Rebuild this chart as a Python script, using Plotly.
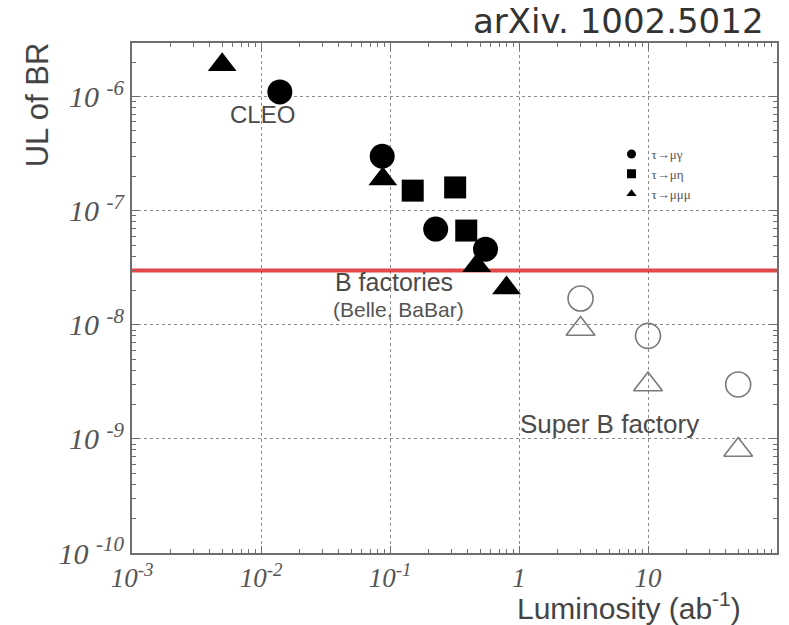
import plotly.graph_objects as go

# ---------------- data ----------------
# tau -> mu gamma (filled: measured, open: Super B projection)
mugamma_lumi = [0.014, 0.087, 0.226, 0.55]
mugamma_ul = [1.1e-6, 3.0e-7, 6.9e-8, 4.6e-8]
mugamma_future_lumi = [3, 10, 50]
mugamma_future_ul = [1.7e-8, 8e-9, 3e-9]

# tau -> mu eta
mueta_lumi = [0.15, 0.32, 0.39]
mueta_ul = [1.5e-7, 1.6e-7, 6.7e-8]

# tau -> mu mu mu
mumumu_lumi = [0.005, 0.088, 0.47, 0.8]
mumumu_ul = [1.9e-6, 1.9e-7, 3.3e-8, 2.1e-8]
mumumu_future_lumi = [3, 10, 50]
mumumu_future_ul = [9.2e-9, 3e-9, 8e-10]

b_factory_limit = 3e-8

legend_names = ["τ→μγ", "τ→μη", "τ→μμμ"]

x_tickvals = [1e-3, 1e-2, 1e-1, 1, 10, 100]
x_ticktext = ["10<sup>-3</sup>", "10<sup>-2</sup>", "10<sup>-1</sup>", "1", "10", ""]
y_tickvals = [1e-10, 1e-9, 1e-8, 1e-7, 1e-6]
y_ticktext = ["10 <sup>-10</sup>", "10 <sup>-9</sup>", "10 <sup>-8</sup>", "10 <sup>-7</sup>", "10 <sup>-6</sup>"]

x_range_log = [-3, 2]
y_range_log = [-10, -5.53]

# ---------------- layout helpers ----------------
W, H = 789, 625
L, R, T, B = 132, 10, 43, 72
PW, PH = W - L - R, H - T - B


def px(x):
    return (x - L) / PW


def py(y):
    return 1 - (y - T) / PH


fig = go.Figure()

# red B-factory line
fig.add_trace(go.Scatter(
    x=[10 ** x_range_log[0], 10 ** x_range_log[1]],
    y=[b_factory_limit, b_factory_limit],
    mode="lines", line=dict(color="rgba(220,40,40,0.85)", width=4),
    showlegend=False, hoverinfo="skip"))

black = "#000000"
grey = "#7a7a7a"

fig.add_trace(go.Scatter(x=mugamma_lumi, y=mugamma_ul, mode="markers",
                         marker=dict(symbol="circle", size=25, color=black),
                         showlegend=False))
fig.add_trace(go.Scatter(x=mueta_lumi, y=mueta_ul, mode="markers",
                         marker=dict(symbol="square", size=22, color=black),
                         showlegend=False))
fig.add_trace(go.Scatter(x=mumumu_lumi, y=mumumu_ul, mode="markers",
                         marker=dict(symbol="triangle-up", size=25, color=black),
                         showlegend=False))
fig.add_trace(go.Scatter(x=mugamma_future_lumi, y=mugamma_future_ul, mode="markers",
                         marker=dict(symbol="circle-open", size=25, color=grey,
                                     line=dict(width=1.6, color=grey)),
                         showlegend=False))
fig.add_trace(go.Scatter(x=mumumu_future_lumi, y=mumumu_future_ul, mode="markers",
                         marker=dict(symbol="triangle-up-open", size=25, color=grey,
                                     line=dict(width=1.6, color=grey)),
                         showlegend=False))

# legend-only entries (small symbols)
for name, sym in zip(legend_names, ["circle", "square", "triangle-up"]):
    fig.add_trace(go.Scatter(x=[None], y=[None], mode="markers", name=name,
                             marker=dict(symbol=sym, size=9, color=black)))

axis_common = dict(
    type="log", showline=True, linecolor="#6f6f6f", linewidth=2, mirror="ticks",
    ticks="inside", ticklen=7, tickcolor="#6f6f6f", tickwidth=1,
    showgrid=True, gridcolor="#8a8a8a", gridwidth=1, griddash="dot",
    zeroline=False,
)

minor_x = [m * 10 ** e for e in range(-3, 2) for m in range(2, 10)]
minor_y = [m * 10 ** e for e in range(-10, -5) for m in range(2, 10) if m * 10 ** e < 10 ** y_range_log[1]]

fig.update_xaxes(range=x_range_log, tickmode="array", tickvals=x_tickvals, ticktext=x_ticktext,
                 tickfont=dict(family="Liberation Serif", size=27, color="#555555", style="italic"),
                 minor=dict(tickvals=minor_x, ticks="inside", ticklen=4, tickcolor="#6f6f6f", showgrid=False),
                 **axis_common)
fig.update_yaxes(range=y_range_log, tickmode="array", tickvals=y_tickvals, ticktext=y_ticktext,
                 tickfont=dict(family="Liberation Serif", size=30, color="#555555", style="italic"),
                 minor=dict(tickvals=minor_y, ticks="inside", ticklen=4, tickcolor="#6f6f6f", showgrid=False),
                 **axis_common)

text_col = "#4a4a4a"
ann = [
    dict(text="arXiv. 1002.5012", x=px(620), y=py(21),
         font=dict(family="DejaVu Sans", size=34, color="#333333")),
    dict(text="UL of BR", x=px(37), y=py(105), textangle=-90,
         font=dict(family="Liberation Sans", size=31, color="#444444")),
    dict(text="Luminosity (ab<sup>-1</sup>)", x=px(631), y=py(606),
         font=dict(family="Liberation Sans", size=30, color="#444444")),
    dict(text="CLEO", x=px(263), y=py(115),
         font=dict(family="Liberation Sans", size=24, color=text_col)),
    dict(text="B factories", x=px(395), y=py(282),
         font=dict(family="Liberation Sans", size=25, color=text_col)),
    dict(text="(Belle, BaBar)", x=px(399), y=py(309),
         font=dict(family="Liberation Sans", size=21, color="#555555")),
    dict(text="Super B factory", x=px(611), y=py(424),
         font=dict(family="Liberation Sans", size=26, color=text_col)),
]
for a in ann:
    a.update(xref="paper", yref="paper", showarrow=False, xanchor="center", yanchor="middle")

fig.update_layout(
    width=W, height=H,
    margin=dict(l=L, r=R, t=T, b=B),
    plot_bgcolor="white", paper_bgcolor="white",
    annotations=ann,
    legend=dict(x=px(613), y=py(139), xanchor="left", yanchor="top",
                bgcolor="rgba(0,0,0,0)", borderwidth=0,
                font=dict(family="Liberation Serif", size=13, color="#555555"),
                tracegroupgap=0, itemsizing="trace"),
)

fig.write_html("out.html")
